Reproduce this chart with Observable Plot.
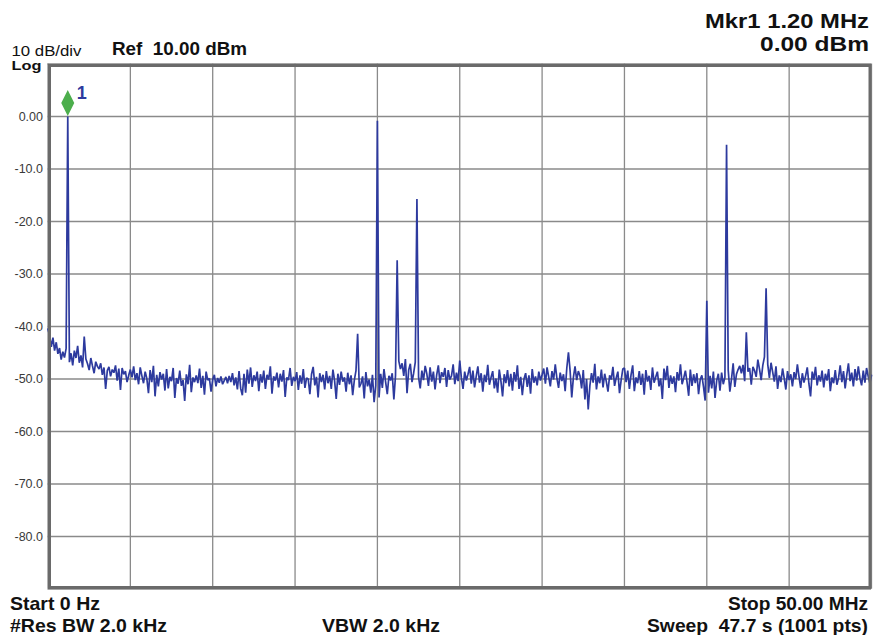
<!DOCTYPE html>
<html>
<head>
<meta charset="utf-8">
<script src="https://cdn.jsdelivr.net/npm/d3@7"></script>
<script src="https://cdn.jsdelivr.net/npm/@observablehq/plot@0.6"></script>
<style>
  html, body { margin: 0; padding: 0; background: #fff; }
  #wrap { position: relative; width: 873px; height: 635px; overflow: hidden; }
  #wrap svg.overlay { position: absolute; left: 0; top: 0; pointer-events: none; }
  text.hdr { font-family: "Liberation Sans", Arial, sans-serif; fill: #111; }
</style>
</head>
<body>
<div id="wrap"></div>
<script>
const startMHz = 0;
const stopMHz = 50;
const stepMHz = 0.1;   // trace samples every 0.1 MHz
// trace level in dBm, one value per 0.1 MHz from 0 to 50 MHz
const traceDbm = [
  -40.5,-41.8,-43.9,-42.1,-44.6,-43.0,-45.2,-44.1,-46.3,-44.8,
  -45.9,-44.2,0.0,-46.8,-45.1,-47.4,-44.6,-46.0,-43.7,-46.9,
  -45.5,-47.8,-41.9,-46.2,-47.1,-48.3,-46.0,-47.5,-48.9,-46.7,
  -47.6,-48.1,-47.0,-49.2,-47.8,-51.9,-48.4,-47.7,-49.5,-48.2,
  -48.8,-47.4,-50.3,-48.0,-52.1,-47.9,-49.1,-48.5,-50.6,-49.3,
  -48.2,-49.7,-47.6,-50.2,-48.9,-51.0,-47.8,-49.4,-50.8,-48.6,
  -49.9,-52.7,-48.3,-50.6,-47.5,-53.3,-49.2,-51.4,-48.7,-50.1,
  -49.0,-52.2,-48.1,-51.8,-49.6,-50.4,-47.9,-53.6,-49.8,-50.9,
  -48.4,-51.3,-50.2,-54.2,-49.1,-51.0,-47.3,-52.5,-49.7,-50.6,
  -49.3,-50.8,-48.0,-51.7,-49.4,-53.0,-48.6,-50.2,-49.9,-52.4,
  -50.1,-49.2,-51.4,-49.8,-50.7,-49.5,-51.0,-50.3,-49.6,-50.8,
  -49.4,-50.6,-48.9,-51.2,-49.7,-52.0,-48.5,-51.8,-53.1,-49.0,
  -52.6,-48.2,-50.9,-47.8,-51.5,-49.3,-50.4,-48.6,-52.3,-49.1,
  -50.7,-48.4,-51.9,-49.2,-50.1,-47.6,-52.8,-49.5,-50.3,-48.8,
  -51.6,-49.0,-50.5,-48.3,-53.4,-49.7,-50.2,-47.9,-51.3,-49.6,
  -50.4,-48.7,-52.1,-49.3,-50.9,-48.1,-51.7,-49.8,-50.0,-52.9,
  -49.1,-47.7,-51.2,-49.6,-53.5,-48.9,-50.6,-49.2,-52.0,-48.5,
  -50.8,-49.4,-51.9,-48.2,-50.3,-53.8,-49.0,-51.1,-48.6,-50.5,
  -49.7,-52.4,-48.8,-51.0,-49.3,-53.1,-50.2,-48.4,-41.4,-51.6,
  -50.9,-49.5,-53.7,-48.7,-51.4,-50.1,-52.6,-49.2,-54.4,-51.2,
  -0.8,-53.5,-49.0,-51.7,-48.1,-50.6,-52.9,-49.4,-50.3,-48.9,
  -53.9,-49.3,-27.4,-46.6,-48.1,-47.0,-49.4,-46.2,-52.7,-48.3,
  -47.1,-50.6,-48.9,-46.8,-15.7,-49.7,-51.8,-48.4,-50.2,-47.5,
  -49.0,-51.3,-47.8,-50.5,-48.6,-52.0,-49.2,-47.4,-50.8,-48.7,
  -49.6,-47.9,-51.5,-48.3,-50.1,-49.4,-47.2,-51.0,-48.8,-50.4,
  -46.5,-49.8,-51.9,-48.6,-50.3,-49.1,-47.7,-50.9,-48.4,-51.6,
  -49.5,-47.6,-50.7,-48.9,-52.4,-49.2,-50.6,-47.3,-51.1,-49.7,
  -48.5,-51.8,-49.9,-52.6,-48.2,-50.4,-53.3,-49.1,-50.8,-48.3,
  -51.4,-49.0,-52.2,-48.7,-50.5,-47.4,-51.9,-49.6,-53.1,-50.0,
  -48.9,-51.5,-49.3,-52.8,-48.1,-50.7,-49.5,-51.2,-48.6,-50.3,
  -49.2,-48.0,-50.9,-47.8,-49.6,-51.4,-48.5,-50.1,-47.2,-49.9,
  -51.7,-48.8,-50.4,-49.1,-52.3,-47.9,-44.9,-48.4,-53.5,-49.7,
  -47.6,-50.2,-48.5,-49.4,-51.8,-48.3,-53.9,-50.0,-55.8,-51.3,
  -48.9,-50.7,-47.1,-52.0,-49.5,-50.8,-48.2,-51.6,-49.0,-50.5,
  -52.4,-49.3,-50.1,-47.7,-51.3,-49.8,-48.6,-52.7,-50.2,-48.1,
  -47.9,-50.6,-48.4,-51.9,-49.2,-47.4,-52.3,-49.7,-50.8,-48.5,
  -51.1,-49.0,-53.0,-48.3,-50.5,-49.4,-52.1,-47.8,-50.7,-49.6,
  -48.6,-51.4,-49.9,-53.8,-48.0,-50.2,-47.5,-51.7,-49.3,-50.9,
  -49.5,-52.5,-48.7,-50.3,-47.2,-51.0,-49.8,-48.4,-50.6,-53.2,
  -48.2,-51.3,-49.1,-50.8,-48.9,-52.9,-50.1,-49.3,-51.5,-54.1,
  -35.1,-52.6,-49.4,-51.8,-48.6,-53.6,-50.3,-49.0,-52.2,-48.8,
  -51.0,-49.7,-5.4,-48.3,-52.4,-50.0,-47.0,-51.5,-49.1,-48.2,
  -47.5,-48.9,-47.3,-50.4,-41.1,-48.6,-47.9,-51.1,-47.7,-48.4,
  -49.6,-46.3,-48.1,-50.2,-47.4,-45.8,-32.7,-47.2,-49.8,-46.9,
  -48.7,-50.5,-47.6,-51.9,-49.3,-50.6,-48.0,-49.9,-52.0,-48.5,
  -50.2,-49.1,-51.4,-48.7,-50.0,-47.2,-49.6,-51.7,-48.9,-50.7,
  -49.4,-47.8,-50.9,-53.3,-48.6,-50.1,-47.7,-51.2,-49.3,-50.5,
  -48.4,-51.6,-49.0,-50.3,-48.1,-52.3,-49.7,-50.8,-48.3,-51.1,
  -49.8,-47.4,-50.6,-48.5,-51.8,-49.2,-47.0,-50.4,-48.8,-51.4,
  -48.1,-50.3,-47.6,-49.9,-51.2,-48.4,-50.7,-47.9,-49.5,-50.8,
  -49.3
];
// marker 1
const markerFreqMHz = [1.2];
const markerLevelDbm = [0.0];
const markerNames = ["1"];
// axis divisions
const xGridMHz = [0, 5, 10, 15, 20, 25, 30, 35, 40, 45, 50];
const yGridDbm = [10, 0, -10, -20, -30, -40, -50, -60, -70, -80, -90];
const yTickValues = [0, -10, -20, -30, -40, -50, -60, -70, -80];
const yTickLabels = ["0.00", "-10.0", "-20.0", "-30.0", "-40.0", "-50.0", "-60.0", "-70.0", "-80.0"];
// annotation texts
const headerLeft = ["10 dB/div", "Log", "Ref  10.00 dBm"];
const headerRight = ["Mkr1 1.20 MHz", "0.00 dBm"];
const footerTexts = ["Start 0 Hz", "Stop 50.00 MHz", "#Res BW 2.0 kHz", "VBW 2.0 kHz", "Sweep  47.7 s (1001 pts)"];

// ---- Build ----
const trace = traceDbm.map((v, i) => ({f: startMHz + i * stepMHz, dbm: v}));
const markers = markerFreqMHz.map((f, i) => ({f, dbm: markerLevelDbm[i], name: markerNames[i]}));

const tallDiamond = {
  draw(context) {
    context.moveTo(0, -13);
    context.lineTo(6.5, 0);
    context.lineTo(0, 13);
    context.lineTo(-6.5, 0);
    context.closePath();
  }
};

const traceColor = "#2d3a9e";

const chart = Plot.plot({
  width: 873,
  height: 635,
  marginLeft: 47.5,
  marginRight: 2,
  marginTop: 63.5,
  marginBottom: 46.5,
  style: {fontFamily: "'Liberation Sans', Arial, sans-serif", background: "#fff"},
  x: {domain: [startMHz, stopMHz], axis: null},
  y: {domain: [-90, 10], axis: null},
  marks: [
    Plot.ruleX(xGridMHz, {stroke: "#8a8a8a", strokeWidth: 1.3}),
    Plot.ruleY(yGridDbm, {stroke: "#8a8a8a", strokeWidth: 1.3}),
    Plot.axisY(yTickValues, {
      anchor: "left",
      label: null,
      tickSize: 0,
      tickPadding: 5,
      fontSize: 12.5,
      fill: "#3a3a3a",
      tickFormat: d => yTickLabels[yTickValues.indexOf(d)]
    }),
    Plot.line(trace, {x: "f", y: "dbm", stroke: traceColor, strokeWidth: 1.7, strokeLinejoin: "miter"}),
    Plot.frame({stroke: "#6a6a6a", strokeWidth: 3, inset: 1.5}),
    Plot.dot(markers, {x: "f", y: "dbm", symbol: tallDiamond, r: 5, fill: "#4cae4c", stroke: "none", dy: -13.5}),
    Plot.text(markers, {x: "f", y: "dbm", text: "name", dx: 9, dy: -18, textAnchor: "start", lineAnchor: "bottom", fontSize: 18, fill: traceColor, fontWeight: "bold"})
  ]
});

const wrap = document.getElementById("wrap");
wrap.appendChild(chart);

// overlay text (header and footer of the instrument screen)
const ns = "http://www.w3.org/2000/svg";
const ov = document.createElementNS(ns, "svg");
ov.setAttribute("class", "overlay");
ov.setAttribute("width", 873);
ov.setAttribute("height", 635);
function addText(str, x, y, size, weight, anchor, len) {
  const t = document.createElementNS(ns, "text");
  t.setAttribute("class", "hdr");
  t.setAttribute("x", x);
  t.setAttribute("y", y);
  t.setAttribute("font-size", size);
  t.setAttribute("font-weight", weight);
  t.setAttribute("text-anchor", anchor);
  t.style.whiteSpace = "pre";
  if (len) { t.setAttribute("textLength", len); t.setAttribute("lengthAdjust", "spacingAndGlyphs"); }
  t.textContent = str;
  ov.appendChild(t);
}
addText(headerLeft[0], 11.5, 55.5, 14.5, "normal", "start", 70);
addText(headerLeft[1], 11.5, 69.5, 12.5, "bold", "start", 30);
addText(headerLeft[2], 112, 55, 17.5, "bold", "start", 135);
addText(headerRight[0], 869, 27.5, 20, "bold", "end", 164);
addText(headerRight[1], 869, 51, 20, "bold", "end", 109);
addText(footerTexts[0], 10, 610, 19, "bold", "start", 90);
addText(footerTexts[1], 868, 610, 19, "bold", "end", 140);
addText(footerTexts[2], 10, 632, 19, "bold", "start", 157);
addText(footerTexts[3], 322, 632, 19, "bold", "start", 118);
addText(footerTexts[4], 868, 632, 19, "bold", "end", 221);
wrap.appendChild(ov);
</script>
</body>
</html>
